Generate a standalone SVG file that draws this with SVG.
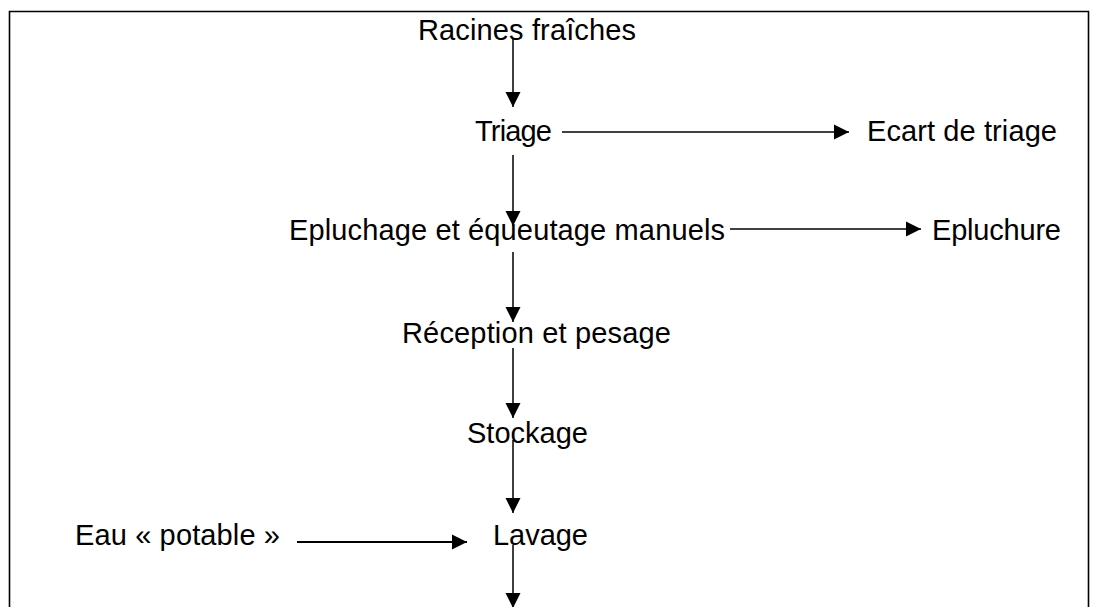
<svg xmlns="http://www.w3.org/2000/svg" width="1093" height="607" viewBox="0 0 1093 607">
  <style>
    .t { font-family: "Liberation Sans", Arial, sans-serif; font-size: 29px; fill: #000; }
    .c { stroke: #000; stroke-width: 1.5; fill: none; marker-end: url(#ah); }
  </style>
  <defs>
    <marker id="ah" markerUnits="userSpaceOnUse" markerWidth="16" markerHeight="16" refX="15" refY="8" orient="auto">
      <path d="M0,0.5 L15,8 L0,15.5 z" fill="#000"/>
    </marker>
  </defs>
  <rect width="1093" height="607" fill="#fff"/>
  <path d="M9.5,620 V11.5 H1088.5 V620" fill="none" stroke="#000" stroke-width="1.6"/>

  <g id="n-racines"><text class="t" x="418" y="40" textLength="218">Racines fraîches</text></g>
  <g id="n-triage"><text class="t" x="475" y="141" textLength="77">Triage</text></g>
  <g id="n-ecart"><text class="t" x="867" y="141" textLength="190">Ecart de triage</text></g>
  <g id="n-epluchage"><text class="t" x="289" y="240" textLength="436">Epluchage et équeutage manuels</text></g>
  <g id="n-epluchure"><text class="t" x="932" y="240" textLength="129">Epluchure</text></g>
  <g id="n-reception"><text class="t" x="402" y="343" textLength="269">Réception et pesage</text></g>
  <g id="n-stockage"><text class="t" x="467" y="443" textLength="121">Stockage</text></g>
  <g id="n-eau"><text class="t" x="75" y="545" textLength="205">Eau « potable »</text></g>
  <g id="n-lavage"><text class="t" x="493" y="545" textLength="95">Lavage</text></g>

  <g id="connectors">
    <line class="c" x1="513" y1="38" x2="513" y2="107"/>
    <line class="c" x1="562" y1="132" x2="849" y2="132"/>
    <line class="c" x1="513" y1="155" x2="513" y2="226"/>
    <line class="c" x1="730" y1="229" x2="921" y2="229"/>
    <line class="c" x1="513" y1="252" x2="513" y2="322"/>
    <line class="c" x1="513" y1="348" x2="513" y2="418"/>
    <line class="c" x1="513" y1="440" x2="513" y2="513"/>
    <line class="c" x1="297" y1="542" x2="467" y2="542" style="stroke-width:2"/>
    <line class="c" x1="513" y1="545" x2="513" y2="608"/>
  </g>
</svg>
